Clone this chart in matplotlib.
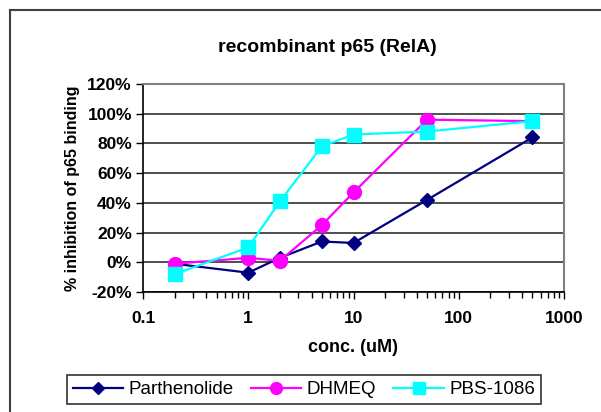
import matplotlib
matplotlib.use("Agg")
import matplotlib.pyplot as plt
from matplotlib.lines import Line2D
from matplotlib.ticker import FuncFormatter, LogLocator, FixedLocator
import numpy as np

plt.rcParams["font.family"] = ["Liberation Sans", "DejaVu Sans"]

# 数据
conc = [0.2, 1, 2, 5, 10, 50, 500]
parthenolide = [-1, -7, 3, 14, 13, 42, 84]
dhmeq = [-1, 3, 1, 25, 47, 96, 95]
pbs1086 = [-8, 10, 41, 78, 86, 88, 95]

W, H = 601, 412
fig = plt.figure(figsize=(W / 100, H / 100), dpi=100)
ax = fig.add_axes([143 / W, 1 - 292 / H, (564 - 143) / W, (292 - 84) / H])

ax.plot(conc, parthenolide, color="#000080", marker="D", markersize=7, lw=1.6,
        label="Parthenolide", zorder=3)
ax.plot(conc, dhmeq, color="#ff00ff", marker="o", markersize=10, lw=1.6,
        label="DHMEQ", zorder=4)
ax.plot(conc, pbs1086, color="#00ffff", marker="s", markersize=9.5, lw=1.6,
        label="PBS-1086", zorder=5)

ax.set_xscale("log")
ax.set_xlim(0.1, 1000)
ax.set_ylim(-20, 120)
ax.set_yticks(np.arange(-20, 121, 20))
ax.yaxis.set_major_formatter(FuncFormatter(lambda v, p: f"{v:.0f}%"))
ax.xaxis.set_major_locator(FixedLocator([0.1, 1, 10, 100, 1000]))
ax.xaxis.set_major_formatter(FuncFormatter(lambda v, p: f"{v:g}"))
ax.xaxis.set_minor_locator(LogLocator(base=10, subs=np.arange(2, 10)))
ax.xaxis.set_minor_formatter(FuncFormatter(lambda v, p: ""))

ax.grid(axis="y", color="#404040", lw=1.3)
ax.set_axisbelow(True)
for s in ["top", "right"]:
    ax.spines[s].set_color("#808080")
    ax.spines[s].set_linewidth(1.5)
for s in ["left", "bottom"]:
    ax.spines[s].set_color("black")
    ax.spines[s].set_linewidth(1.2)

ax.tick_params(axis="both", which="major", direction="out", length=5, width=1,
               labelsize=12.5)
ax.tick_params(axis="y", which="major", pad=3)
ax.tick_params(axis="x", which="minor", direction="out", length=4, width=1)
ax.tick_params(axis="x", which="major", pad=9)
for lab in ax.get_xticklabels() + ax.get_yticklabels():
    lab.set_fontweight("bold")

ax.set_xlabel("conc. (uM)", fontsize=13, fontweight="bold", labelpad=9)
ax.set_ylabel("% inhibition of p65 binding", fontsize=11.5, fontweight="bold",
              labelpad=5)
fig.text(327 / W, 1 - 47 / H, "recombinant p65 (RelA)", ha="center", va="center",
         fontsize=14, fontweight="bold")

leg = ax.legend(loc="center", bbox_to_anchor=(304 / W, 1 - 389.5 / H),
                bbox_transform=fig.transFigure, ncol=3, fontsize=13.5,
                frameon=True, fancybox=False, edgecolor="black",
                handlelength=2.7, handletextpad=0.3, columnspacing=0.9,
                borderpad=0.3, borderaxespad=0, markerscale=0.85)
leg.get_frame().set_linewidth(1.2)

# 外框
fig.add_artist(Line2D([10 / W, 10 / W], [0, 1 - 10 / H], color="#404040", lw=1.5,
                      transform=fig.transFigure))
fig.add_artist(Line2D([10 / W, 1], [1 - 10 / H, 1 - 10 / H], color="#404040", lw=1.5,
                      transform=fig.transFigure))

fig.savefig("out.png", dpi=100)
